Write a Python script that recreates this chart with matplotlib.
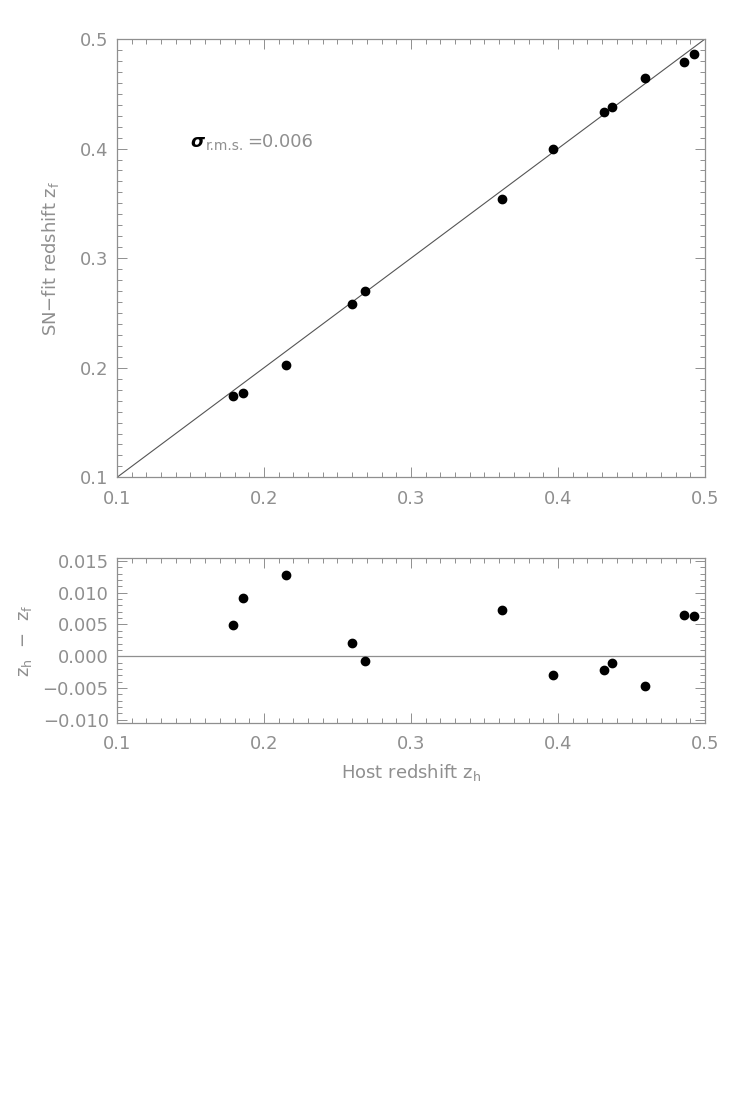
import numpy as np
import matplotlib
matplotlib.use("Agg")
import matplotlib.pyplot as plt
from matplotlib.ticker import MultipleLocator, FuncFormatter

# host redshifts and residuals z_h - z_f
z_host = [0.1787, 0.1859, 0.2150, 0.2599, 0.2689, 0.3617, 0.3968,
          0.4315, 0.4367, 0.4594, 0.4855, 0.4925]
dz = [0.0049, 0.0092, 0.0128, 0.0021, -0.0008, 0.0073, -0.0029,
      -0.0022, -0.0011, -0.0047, 0.0065, 0.0063]
z_fit = [h - d for h, d in zip(z_host, dz)]
sigma_rms = "0.006"

GRAY = "#8f8f8f"
plt.rcParams['font.family'] = ['DejaVu Sans']
plt.rcParams['font.size'] = 13


def fmt(ndig):
    # long minus sign like the original
    return FuncFormatter(lambda v, p: ('%.*f' % (ndig, v)).replace('-', '\u2212')
                         if abs(v) > 1e-12 else '%.*f' % (ndig, 0.0))


def style_axis(ax, ymaj, ymin, ndig):
    ax.xaxis.set_major_locator(MultipleLocator(0.1))
    ax.xaxis.set_minor_locator(MultipleLocator(0.01))
    ax.yaxis.set_major_locator(MultipleLocator(ymaj))
    ax.yaxis.set_minor_locator(MultipleLocator(ymin))
    ax.xaxis.set_major_formatter(fmt(1))
    ax.yaxis.set_major_formatter(fmt(ndig))
    ax.tick_params(which='both', direction='in', top=True, right=True,
                   color=GRAY, labelcolor=GRAY, width=0.7)
    ax.tick_params(which='major', length=7, labelsize=13)
    ax.tick_params(which='minor', length=3.5)
    ax.tick_params(axis='x', pad=9)
    ax.tick_params(axis='y', pad=6)
    for s in ax.spines.values():
        s.set_color(GRAY)
        s.set_linewidth(0.9)


fig = plt.figure(figsize=(7.39, 11.14), dpi=100)
ax1 = fig.add_axes([0.1583, 0.5715, 0.7957, 0.3935])
ax2 = fig.add_axes([0.1583, 0.3510, 0.7957, 0.1484])

# top panel: fitted vs host redshift
ax1.plot([0.1, 0.5], [0.1, 0.5], color='#555555', lw=0.8)
ax1.plot(z_host, z_fit, 'o', color='black', ms=6)
ax1.set_xlim(0.1, 0.5)
ax1.set_ylim(0.1, 0.5)
style_axis(ax1, 0.1, 0.01, 1)
ax1.set_ylabel(r'SN$-$fit redshift z$_{\rm f}$', color=GRAY, fontsize=13, labelpad=14)

ax1.annotate('σ', xy=(0.1497, 0.406), xycoords='data', fontsize=13,
             fontweight='bold', fontstyle='italic', color='black', va='center')
ax1.annotate('r.m.s.', xy=(0.1497, 0.406), xytext=(11, -3),
             textcoords='offset points', fontsize=10, color=GRAY, va='center')
ax1.annotate('=' + sigma_rms, xy=(0.1497, 0.406), xytext=(41, 0),
             textcoords='offset points', fontsize=13, color=GRAY, va='center')

# bottom panel: residuals
ax2.axhline(0.0, color=GRAY, lw=0.9)
ax2.plot(z_host, dz, 'o', color='black', ms=6)
ax2.set_xlim(0.1, 0.5)
ax2.set_ylim(-0.0105, 0.0155)
style_axis(ax2, 0.005, 0.001, 3)
ax2.set_ylabel(r'z$_{\rm h}$  $-$  z$_{\rm f}$', color=GRAY, fontsize=13, labelpad=6)
ax2.set_xlabel(r'Host redshift z$_{\rm h}$', color=GRAY, fontsize=13, labelpad=6)

fig.savefig('out.png', dpi=100)
